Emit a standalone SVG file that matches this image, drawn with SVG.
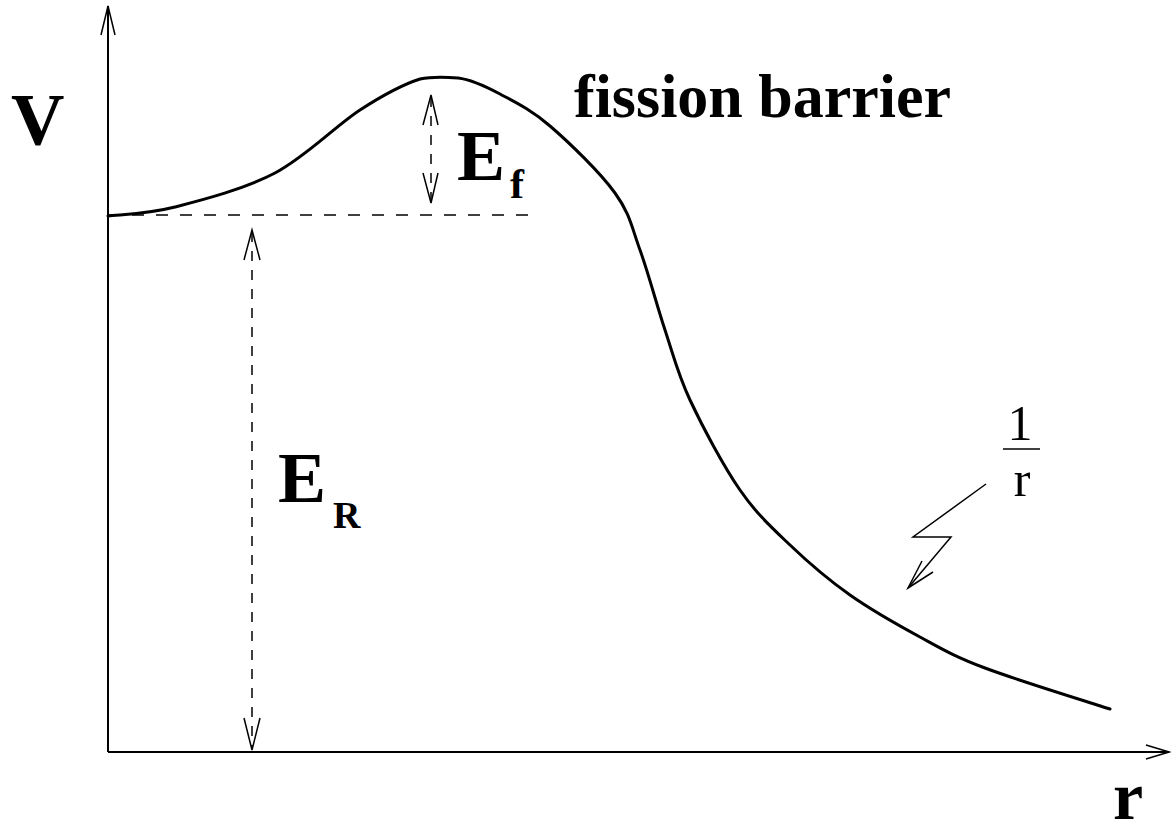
<svg xmlns="http://www.w3.org/2000/svg" width="1171" height="834" viewBox="0 0 1171 834">
<style>
.axis{fill:none;stroke:#000;stroke-width:2}
.curve{fill:none;stroke:#000;stroke-width:3;stroke-linejoin:round;stroke-linecap:round}
.dash{fill:none;stroke:#000;stroke-width:1.5;stroke-dasharray:12 12}
.vdash{fill:none;stroke:#000;stroke-width:1.5;stroke-dasharray:10 9}
.head{fill:none;stroke:#000;stroke-width:1.5}
.thin{fill:none;stroke:#000;stroke-width:1.5}
.lab{font-family:"Liberation Serif",serif;font-weight:bold;fill:#000}
.reg{font-family:"Liberation Serif",serif;fill:#000}
</style>
<rect width="1171" height="834" fill="#fff"/>
<g id="connectors">
<g id="axes">
<path class="axis" d="M108,752 V6 M108,752 H1169"/>
<path class="head" d="M101,35 L108,6 L115,35"/>
<path class="head" d="M1146,745 L1169,752 L1146,759"/>
</g>
<path id="potential" class="curve" d="M108,216 C119.2,214.5 147.2,214.2 175,207 C202.8,199.8 244.2,189.2 275,173 C305.8,156.8 335.8,125.7 360,110 C384.2,94.3 403.3,84.3 420,79 C434,76 446.7,77 458,78 C471.3,79.5 485,86 500,94 C515,102 530.8,109.5 550,126 C569.2,142.5 600,172.3 615,193 C630,213.7 631.7,227.2 640,250 C648.3,272.8 656.7,305 665,330 C673.3,355 677.5,373.3 690,400 C702.5,426.7 723.3,465.8 740,490 C756.7,514.2 771.7,527.5 790,545 C808.3,562.5 828.3,579.7 850,595 C871.7,610.3 897.5,624.8 920,637 C942.5,649.2 953.3,656 985,668 C1016.7,680 1089.2,702.2 1110,709"/>
<path id="level" class="dash" d="M108,215 H528"/>
<g id="Ef-arrow">
<path class="vdash" d="M431,97 V201"/>
<path class="head" d="M423,125 L431,95 L438,125 M423,173 L431,203 L438,173"/>
</g>
<g id="ER-arrow">
<path class="vdash" d="M252,232 V748"/>
<path class="head" d="M244,260 L252,230 L260,260 M244,718 L252,750 L260,718"/>
</g>
<g id="pointer">
<path class="thin" d="M986,484 L913,537 L951,537 L908,588"/>
<path class="head" d="M922,561 L908,588 L933,572"/>
</g>
</g>
<g id="label-V"><text class="lab" x="11" y="145" font-size="74">V</text></g>
<g id="label-r"><text class="lab" x="1113" y="819" font-size="68">r</text></g>
<g id="label-fission"><text class="lab" x="574" y="117" font-size="62">fission barrier</text></g>
<g id="label-Ef"><text class="lab" x="457" y="180" font-size="72">E</text><text class="lab" x="510" y="198" font-size="42">f</text></g>
<g id="label-ER"><text class="lab" x="278" y="502" font-size="72">E</text><text class="lab" x="333" y="528" font-size="38">R</text></g>
<g id="label-1r">
<text class="reg" x="1020" y="440" font-size="50" text-anchor="middle">1</text>
<path class="thin" d="M1003,449 H1040" stroke-width="2"/>
<text class="reg" x="1022" y="496" font-size="50" text-anchor="middle">r</text>
</g>
</svg>
